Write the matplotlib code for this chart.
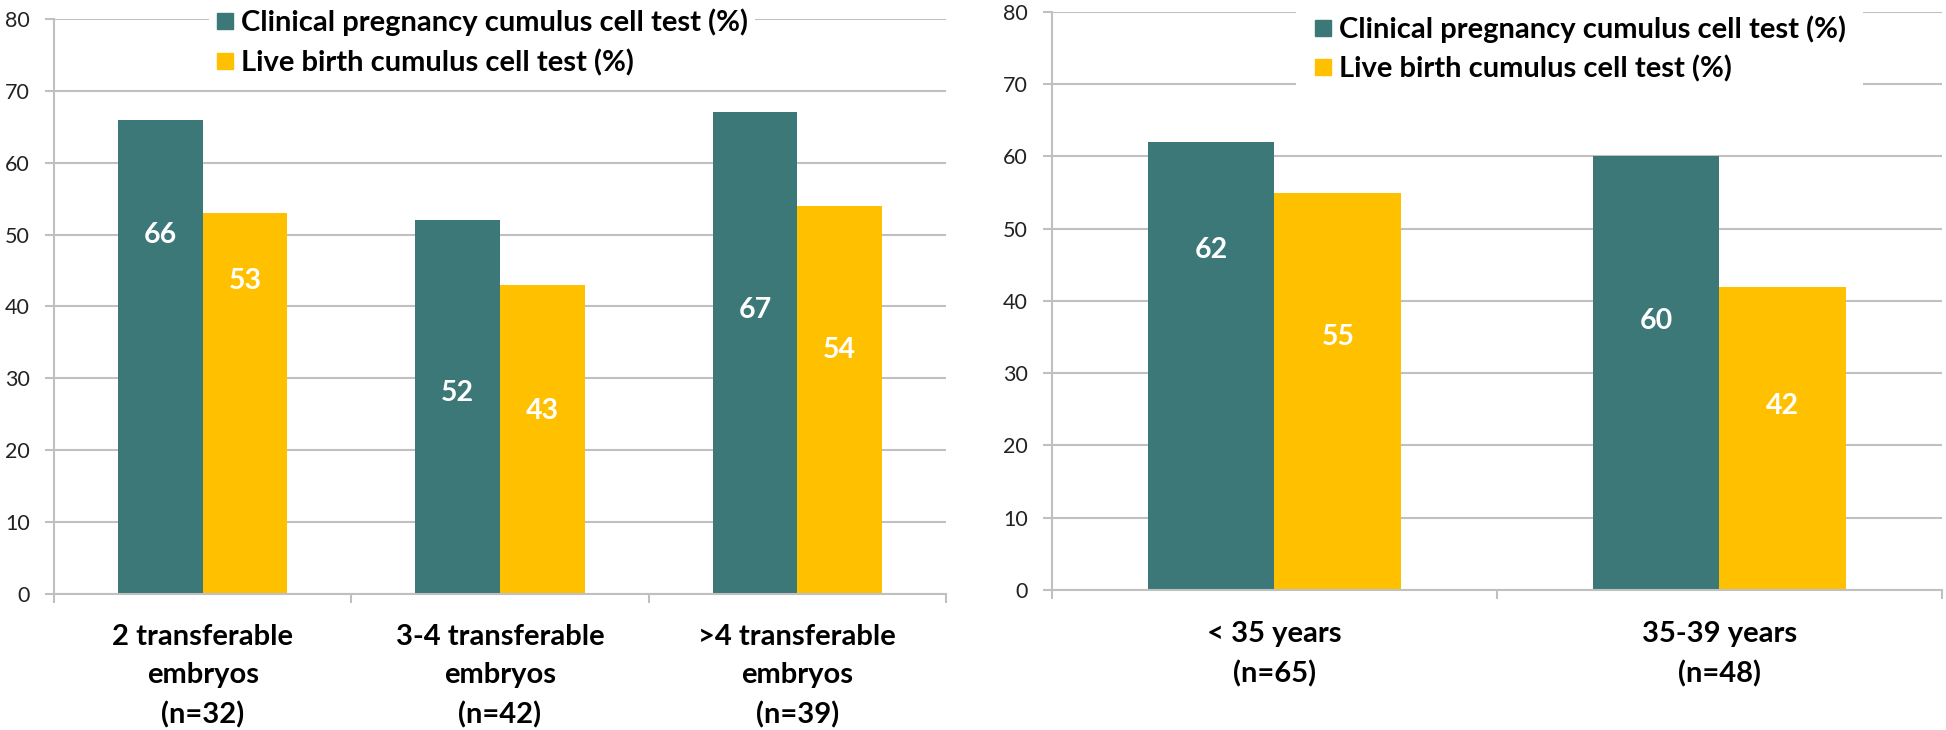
import numpy as np
import matplotlib
matplotlib.use("Agg")
import matplotlib.pyplot as plt
from matplotlib.lines import Line2D

# ---------- DATA ----------
series_names = ["Clinical pregnancy cumulus cell test (%)",
                "Live birth cumulus cell test (%)"]

embryo_groups = ["2 transferable\nembryos\n(n=32)",
                 "3-4 transferable\nembryos\n(n=42)",
                 ">4 transferable\nembryos\n(n=39)"]
embryo_pregnancy = [66, 52, 67]
embryo_live_birth = [53, 43, 54]

age_groups = ["< 35 years\n(n=65)", "35-39 years\n(n=48)"]
age_pregnancy = [62, 60]
age_live_birth = [55, 42]

y_ticks = [0, 10, 20, 30, 40, 50, 60, 70, 80]

# height at which each value label sits inside its bar (placed by hand in the source)
embryo_label_y = ([50, 28, 39.5], [43.5, 25.5, 34])
age_label_y = ([47, 37.3], [35, 25.5])

# ---------- STYLE ----------
TEAL = "#3B7877"
GOLD = "#FFC000"
GRID = "#C0C0C0"
BAR_W = 0.285

plt.rcParams['font.family'] = ['Lato', 'DejaVu Sans']


def draw_panel(ax, groups, preg, live, label_y, xpad, legend_pos,
               legend_spacing, legend_pad):
    """Draw one grouped bar panel in the Excel-like style of the source."""
    x = np.arange(len(groups))
    ax.bar(x - BAR_W / 2, preg, BAR_W, color=TEAL, zorder=2)
    ax.bar(x + BAR_W / 2, live, BAR_W, color=GOLD, zorder=2)

    # white value labels inside the bars
    for xi, v, ly in zip(x, preg, label_y[0]):
        ax.text(xi - BAR_W / 2, ly, str(v), ha='center', va='center',
                color='white', fontsize=20.5, fontweight='bold', zorder=3)
    for xi, v, ly in zip(x, live, label_y[1]):
        ax.text(xi + BAR_W / 2, ly, str(v), ha='center', va='center',
                color='white', fontsize=20.5, fontweight='bold', zorder=3)

    ax.set_xlim(-0.5, len(groups) - 0.5)
    ax.set_ylim(0, 80)
    ax.set_yticks(y_ticks)
    ax.yaxis.grid(True, color=GRID, linewidth=1.5)
    ax.set_axisbelow(True)

    # category labels in the middle, small tick marks between the groups
    ax.set_xticks(x)
    ax.set_xticklabels(groups, fontsize=21, fontweight='bold', linespacing=1.58)
    ax.set_xticks(np.arange(-0.5, len(groups)), minor=True)
    ax.tick_params(axis='x', which='major', length=0, pad=xpad, colors='black')
    ax.tick_params(axis='x', which='minor', length=6.5, width=1.5, color=GRID)
    ax.tick_params(axis='y', length=6.5, width=1.5, color=GRID, pad=11,
                   labelsize=15.5, labelcolor='#222222')

    for side in ['top', 'right']:
        ax.spines[side].set_visible(False)
    for side in ['left', 'bottom']:
        ax.spines[side].set_color(GRID)
        ax.spines[side].set_linewidth(1.5)

    handles = [Line2D([], [], marker='s', ls='', color=TEAL, markersize=12),
               Line2D([], [], marker='s', ls='', color=GOLD, markersize=12)]
    leg = ax.legend(handles, series_names, loc='center left',
                    bbox_to_anchor=legend_pos, bbox_transform=ax.figure.transFigure,
                    prop={'size': 21, 'weight': 'bold'},
                    frameon=True, facecolor='white', edgecolor='none', framealpha=1,
                    fancybox=False, borderpad=legend_pad, borderaxespad=0,
                    handlelength=0.6, handletextpad=0.25,
                    labelspacing=legend_spacing)
    leg.set_zorder(5)


fig = plt.figure(figsize=(19.46, 7.3), dpi=100)
ax1 = fig.add_axes([0.02775, 0.1863, 0.4584, 0.7877])
ax2 = fig.add_axes([0.5406, 0.19178, 0.4573, 0.7918])

draw_panel(ax1, embryo_groups, embryo_pregnancy, embryo_live_birth, embryo_label_y,
           xpad=21.5, legend_pos=(0.10725, 0.9418),
           legend_spacing=0.47, legend_pad=0.25)
draw_panel(ax2, age_groups, age_pregnancy, age_live_birth, age_label_y,
           xpad=22.5, legend_pos=(0.6662, 0.9329),
           legend_spacing=0.43, legend_pad=0.6)

fig.savefig("out.png", dpi=100)
